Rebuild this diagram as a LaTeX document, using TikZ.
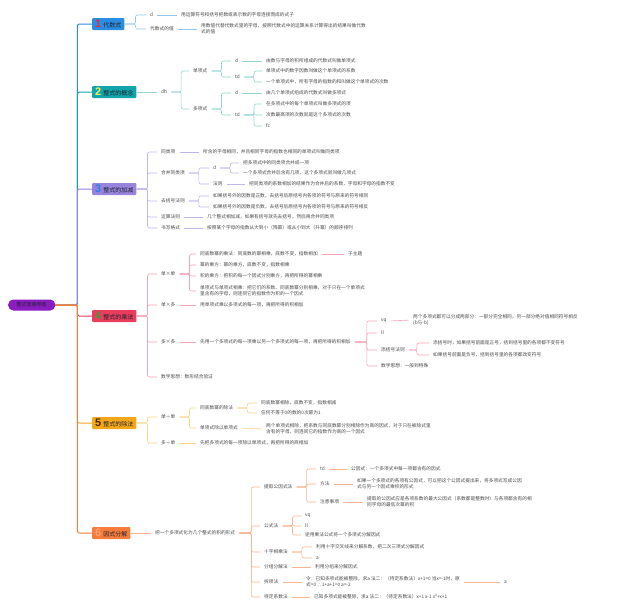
\documentclass[tikz,border=0pt]{standalone}
\usepackage{fontspec}
\setmainfont{Noto Sans CJK SC}
\newfontfamily\numfont{Liberation Sans}
\definecolor{c1}{HTML}{2A8EE0}
\definecolor{c2}{HTML}{12A4A8}
\definecolor{c3}{HTML}{9884DC}
\definecolor{c4}{HTML}{EA3C5C}
\definecolor{c5}{HTML}{F5A71A}
\definecolor{c6}{HTML}{F77C3C}
\definecolor{l1}{HTML}{93C8EE}
\definecolor{l2}{HTML}{93D5D1}
\definecolor{l3}{HTML}{C2B4EC}
\definecolor{l4}{HTML}{F4A6B7}
\definecolor{l5}{HTML}{F7D582}
\definecolor{l6}{HTML}{F7B592}
\definecolor{n1}{HTML}{E8283C}
\definecolor{n2}{HTML}{F8EC5A}
\definecolor{n3}{HTML}{2F7EE8}
\definecolor{n4}{HTML}{3C9C3C}
\definecolor{n5}{HTML}{4A2A00}
\definecolor{n6}{HTML}{F9A070}
\definecolor{rootc}{HTML}{8A1CC0}
\definecolor{txt}{HTML}{4A4A4A}
\definecolor{boxtxt}{HTML}{1E2433}
\newcommand\bnum[2]{{\numfont\bfseries\fontsize{11}{11}\selectfont\color{#1}#2}\hspace{2pt}}
\tikzset{
  lf/.style={anchor=west, inner sep=1pt, font=\fontsize{4.7}{6.2}\selectfont, text=txt, align=left},
  mb/.style={anchor=west, rounded corners=1pt, inner xsep=3pt, inner ysep=0pt, minimum height=12pt, font=\fontsize{6}{7}\selectfont, text=boxtxt},
  rootbox/.style={anchor=west, rounded corners=5pt, fill=rootc, minimum width=47pt, minimum height=11pt, inner ysep=0pt, font=\fontsize{5}{6}\selectfont, text=boxtxt},
  trunk/.style={line width=1pt, rounded corners=2pt},
  cn/.style={line width=0.6pt, rounded corners=2pt, shorten <=3pt, shorten >=3pt},
  cb/.style={line width=0.6pt, rounded corners=2pt, shorten >=3pt}
}
\newcommand\mmbr[4]{\foreach \mmc in {#4} {\draw[cn,#1] (#2.east) -- ++(#3,0) |- (\mmc.west);}}
\newcommand\mmbb[4]{\foreach \mmc in {#4} {\draw[cb,#1] (#2.east) -- ++(#3,0) |- (\mmc.west);}}
\newcommand\mmln[3]{\draw[cn,#1] (#2.east) -- (#3.west);}
\begin{document}
\begin{tikzpicture}[x=1pt,y=-1pt]
\useasboundingbox (0,0) rectangle (640,611);
\fill[white] (0,0) rectangle (640,611);

% root and main boxes
\node[rootbox] (r) at (8,305) {整式思维导图};
\node[mb, fill=c1] (b1) at (92,24) {\bnum{n1}{1}代数式};
\node[mb, fill=c2] (b2) at (92,92) {\bnum{n2}{2}整式的概念};
\node[mb, fill=c3] (b3) at (92,189) {\bnum{n3}{3}整式的加减};
\node[mb, fill=c4] (b4) at (92,316) {\bnum{n4}{4}整式的乘法};
\node[mb, fill=c5] (b5) at (92,423) {\bnum{n5}{5}整式的除法};
\node[mb, fill=c6] (b6) at (92,533) {\bnum{n6}{6}因式分解};
\foreach \b/\c in {b1/c1,b2/c2,b3/c3,b4/c4,b5/c5,b6/c6}
  {\draw[trunk, color=\c] (r.east) -- ++(22,0) |- (\b.west);}

% branch 1
\node[lf] (a1) at (149,15) {d};
\node[lf] (a2) at (149,29) {代数式的值};
\node[lf] (a1t) at (180,15) {用运算符号和括号把数或表示数的字母连接而成的式子};
\node[lf] (a2t) at (200,29) {用数值代替代数式里的字母，按照代数式中的运算关系计算得出的结果叫做代数\\式的值};
\mmbb{l1}{b1}{11}{a1,a2}
\mmln{l1}{a1}{a1t}
\mmln{l1}{a2}{a2t}

% branch 2
\node[lf] (d0) at (160,92) {dh};
\node[lf] (d1) at (192,71) {单项式};
\node[lf] (d2) at (192,109) {多项式};
\node[lf] (d11) at (234,61) {d};
\node[lf] (d12) at (234,77) {td};
\node[lf] (d21) at (234,93) {d};
\node[lf] (d22) at (234,115) {td};
\node[lf] (d11t) at (265,61) {由数与字母的积所组成的代数式叫做单项式};
\node[lf] (d12a) at (265,71) {单项式中的数字因数叫做这个单项式的系数};
\node[lf] (d12b) at (265,82) {一个单项式中，所有字母的指数的和叫做这个单项式的次数};
\node[lf] (d21t) at (265,93) {由几个单项式组成的代数式叫做多项式};
\node[lf] (d22a) at (265,104) {在多项式中的每个单项式叫做多项式的项};
\node[lf] (d22b) at (265,115) {次数最高项的次数就是这个多项式的次数};
\node[lf] (d22c) at (265,126) {fc};
\draw[cb,l2] (b2.east) -- (d0.west);
\mmbr{l2}{d0}{13}{d1,d2}
\mmbr{l2}{d1}{13}{d11,d12}
\mmbr{l2}{d2}{13}{d21,d22}
\mmln{l2}{d11}{d11t}
\mmbr{l2}{d12}{13}{d12a,d12b}
\mmln{l2}{d21}{d21t}
\mmbr{l2}{d22}{13}{d22a,d22b,d22c}

% branch 3
\node[lf] (e1) at (160,152) {同类项};
\node[lf] (e1t) at (202,152) {所含的字母相同，并且相同字母的指数也相同的单项式叫做同类项};
\node[lf] (e2) at (160,173) {合并同类项};
\node[lf] (e21) at (212,168) {d};
\node[lf] (e22) at (212,184) {法则};
\node[lf] (e21a) at (242,163) {把多项式中的同类项合并成一项};
\node[lf] (e21b) at (242,173) {一个多项式合并后含有几项，这个多项式就叫做几项式};
\node[lf] (e22t) at (248,184) {把同类项的系数相加的结果作为合并后的系数，字母和字母的指数不变};
\node[lf] (e3) at (160,201) {去括号法则};
\node[lf] (e3a) at (212,196) {如果括号外的因数是正数，去括号后原括号内各项的符号与原来的符号相同};
\node[lf] (e3b) at (212,207) {如果括号外的因数是负数，去括号后原括号内各项的符号与原来的符号相反};
\node[lf] (e4) at (160,217) {运算法则};
\node[lf] (e4t) at (206,217) {几个整式相加减，如果有括号就先去括号，然后再合并同类项};
\node[lf] (e5) at (160,228) {书写格式};
\node[lf] (e5t) at (206,228) {按照某个字母的指数从大到小（降幂）或从小到大（升幂）的顺序排列};
\mmbb{l3}{b3}{11}{e1,e2,e3,e4,e5}
\mmln{l3}{e1}{e1t}
\mmbr{l3}{e2}{13}{e21,e22}
\mmbr{l3}{e21}{13}{e21a,e21b}
\mmln{l3}{e22}{e22t}
\mmbr{l3}{e3}{13}{e3a,e3b}
\mmln{l3}{e4}{e4t}
\mmln{l3}{e5}{e5t}

% branch 4
\node[lf] (f1) at (160,274) {单×单};
\node[lf] (f11) at (199,254) {同底数幂的乘法：同底数的幂相乘，底数不变，指数相加};
\node[lf] (f11s) at (347,254) {子主题};
\node[lf] (f12) at (199,265) {幂的乘方：幂的乘方，底数不变，指数相乘};
\node[lf] (f13) at (199,276) {积的乘方：把积的每一个因式分别乘方，再把所得的幂相乘};
\node[lf] (f14) at (199,291) {单项式与单项式相乘：把它们的系数、同底数幂分别相乘，对于只在一个单项式\\里含有的字母，则连同它的指数作为积的一个因式};
\node[lf] (f2) at (160,305) {单×多};
\node[lf] (f2t) at (199,305) {用单项式乘以多项式的每一项，再把所得的积相加};
\node[lf] (f3) at (160,342) {多×多};
\node[lf] (f3t) at (199,342) {先用一个多项式的每一项乘以另一个多项式的每一项，再把所得的积相加};
\node[lf] (f31) at (380,321) {vq};
\node[lf] (f31t) at (412,320) {两个多项式都可以分成两部分：一部分完全相同，另一部分绝对值相同符号相反\\(b与-b)};
\node[lf] (f32) at (380,333) {ll};
\node[lf] (f33) at (380,350) {添括号法则};
\node[lf] (f33a) at (432,343) {添括号时，如果括号前面是正号，括到括号里的各项都不变符号};
\node[lf] (f33b) at (432,355) {如果括号前面是负号，括到括号里的各项都改变符号};
\node[lf] (f34) at (380,366) {数学思想：一般到特殊};
\node[lf] (f4) at (160,377) {数学思想：数形结合验证};
\mmbb{l4}{b4}{11}{f1,f2,f3,f4}
\mmbr{l4}{f1}{13}{f11,f12,f13,f14}
\mmln{l4}{f11}{f11s}
\mmln{l4}{f2}{f2t}
\mmln{l4}{f3}{f3t}
\mmbr{l4}{f3t}{15}{f31,f32,f33,f34}
\mmln{l4}{f31}{f31t}
\mmbr{l4}{f33}{11}{f33a,f33b}

% branch 5
\node[lf] (g1) at (160,417) {单÷单};
\node[lf] (g11) at (199,408) {同底数幂的除法};
\node[lf] (g11a) at (260,403) {同底数幂相除，底数不变，指数相减};
\node[lf] (g11b) at (260,413) {任何不等于0的数的0次幂为1};
\node[lf] (g12) at (199,428) {单项式除以单项式};
\node[lf] (g12t) at (265,429) {两个单项式相除，把系数与同底数幂分别相除作为商的因式，对于只在被除式里\\含有的字母，则连同它的指数作为商的一个因式};
\node[lf] (g2) at (160,443) {多÷单};
\node[lf] (g2t) at (199,443) {先把多项式的每一项除以单项式，再把所得的商相加};
\mmbb{l5}{b5}{11}{g1,g2}
\mmbr{l5}{g1}{13}{g11,g12}
\mmbr{l5}{g11}{13}{g11a,g11b}
\mmln{l5}{g12}{g12t}
\mmln{l5}{g2}{g2t}

% branch 6
\node[lf] (h0) at (154,533) {把一个多项式化为几个整式的积的形式};
\node[lf] (h1) at (263,487) {提取公因式法};
\node[lf] (h11) at (319,469) {td};
\node[lf] (h11t) at (350,469) {公因式：一个多项式中每一项都含有的因式};
\node[lf] (h12) at (319,484) {方法};
\node[lf] (h12t) at (356,484) {如果一个多项式的各项有公因式，可以把这个公因式提出来，将多项式写成公因\\式与另一个因式乘积的形式};
\node[lf] (h13) at (319,502) {注意事项};
\node[lf] (h13t) at (366,502) {提取的公因式应是各项系数的最大公因式（系数都是整数时）与各项都含有的相\\同字母的最低次幂的积};
\node[lf] (h2) at (263,526) {公式法};
\node[lf] (h21) at (304,516) {vq};
\node[lf] (h22) at (304,526) {ll};
\node[lf] (h23) at (304,535) {逆用乘法公式将一个多项式分解因式};
\node[lf] (h3) at (263,552) {十字相乘法};
\node[lf] (h31) at (315,547) {利用十字交叉线来分解系数，把二次三项式分解因式};
\node[lf] (h32) at (315,558) {a};
\node[lf] (h4) at (263,567) {分组分解法};
\node[lf] (h4t) at (314,567) {利用分组来分解因式};
\node[lf] (h5) at (263,582) {拆项法};
\node[lf] (h5t) at (305,582) {令：已知多项式能被整除，求a 法二：（待定系数法）x+1=0 当x=-1时，原\\式=0 ∴1+a+1=0 a=-2};
\node[lf] (h5s) at (503,582) {a};
\node[lf] (h6) at (263,597) {待定系数法};
\node[lf] (h6t) at (313,597) {已知多项式能被整除，求a 法二：（待定系数法）x+1 x-1 x²+x+1};
\draw[cb,l6] (b6.east) -- (h0.west);
\mmbr{l6}{h0}{15}{h1,h2,h3,h4,h5,h6}
\mmbr{l6}{h1}{13}{h11,h12,h13}
\mmln{l6}{h11}{h11t}
\mmln{l6}{h12}{h12t}
\mmln{l6}{h13}{h13t}
\mmbr{l6}{h2}{13}{h21,h22,h23}
\mmbr{l6}{h3}{13}{h31,h32}
\mmln{l6}{h4}{h4t}
\mmln{l6}{h5}{h5t}
\mmln{l6}{h5t}{h5s}
\mmln{l6}{h6}{h6t}
\end{tikzpicture}
\end{document}
